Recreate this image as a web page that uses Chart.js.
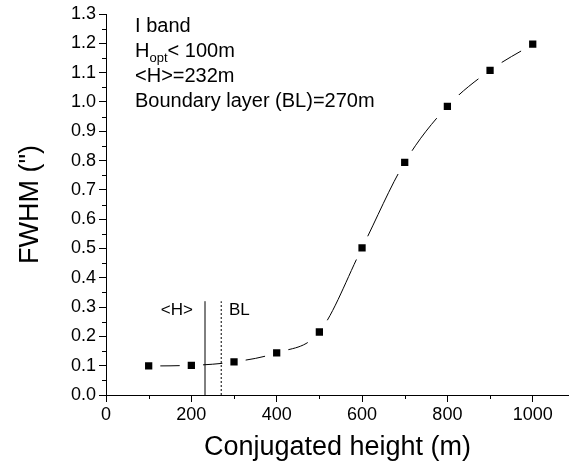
<!DOCTYPE html>
<html>
<head>
<meta charset="utf-8">
<script src="https://cdn.jsdelivr.net/npm/chart.js@4.4.1/dist/chart.umd.min.js"></script>
<style>
  html, body { margin: 0; padding: 0; background: #fff; }
  #wrap { width: 569px; height: 472px; }
</style>
</head>
<body>
<div id="wrap"><canvas id="chart"></canvas></div>
<script>
// FWHM vs conjugated height, I band
const heights = [100, 200, 300, 400, 500, 600, 700, 800, 900, 1000];
const fwhm = [0.099, 0.101, 0.113, 0.144, 0.215, 0.502, 0.794, 0.985, 1.108, 1.197];

const meanH = 232;      // <H>
const boundaryH = 270;  // BL
const markerTop = 0.32;

const xMinor = [100, 300, 500, 700, 900];
const yMinor = [0.05, 0.15, 0.25, 0.35, 0.45, 0.55, 0.65, 0.75, 0.85, 0.95, 1.05, 1.15, 1.25];

const FONT = '"Liberation Sans", Arial, sans-serif';

const extras = {
  id: 'extras',
  afterDraw(chart) {
    const ctx = chart.ctx;
    const xs = chart.scales.x, ys = chart.scales.y;
    const area = chart.chartArea;

    // minor ticks
    ctx.save();
    ctx.strokeStyle = '#000';
    ctx.lineWidth = 1;
    ctx.beginPath();
    xMinor.forEach(v => {
      const px = Math.round(xs.getPixelForValue(v)) + 0.5;
      ctx.moveTo(px, area.bottom);
      ctx.lineTo(px, area.bottom + 4);
    });
    yMinor.forEach(v => {
      const py = Math.round(ys.getPixelForValue(v)) + 0.5;
      ctx.moveTo(area.left, py);
      ctx.lineTo(area.left - 4, py);
    });
    ctx.stroke();

    // labels near the vertical lines
    ctx.fillStyle = '#000';
    ctx.textBaseline = 'middle';
    ctx.font = '17px ' + FONT;
    ctx.textAlign = 'center';
    ctx.fillText('<H>', xs.getPixelForValue(166), ys.getPixelForValue(0.29));
    ctx.textAlign = 'left';
    ctx.fillText('BL', xs.getPixelForValue(288), ys.getPixelForValue(0.29));

    // annotation block
    const left = xs.getPixelForValue(68);
    const top = area.top + 12;
    const step = 25;
    ctx.font = '20px ' + FONT;
    ctx.fillText('I band', left, top);
    ctx.fillText('H', left, top + step);
    let w = ctx.measureText('H').width;
    ctx.font = '13px ' + FONT;
    ctx.fillText('opt', left + w, top + step + 7);
    w += ctx.measureText('opt').width;
    ctx.font = '20px ' + FONT;
    ctx.fillText('< 100m', left + w, top + step);
    ctx.fillText('<H>=232m', left, top + 2 * step);
    ctx.fillText('Boundary layer (BL)=270m', left, top + 3 * step);
    ctx.restore();
  }
};

new Chart(document.getElementById('chart').getContext('2d'), {
  type: 'scatter',
  data: {
    datasets: [
      {
        data: heights.map((h, i) => ({ x: h, y: fwhm[i] })),
        showLine: true,
        borderColor: '#000',
        borderWidth: 1,
        cubicInterpolationMode: 'monotone',
        pointStyle: 'rect',
        pointRadius: 10.8,
        pointBackgroundColor: '#000',
        pointBorderColor: '#fff',
        pointBorderWidth: 8
      },
      {
        data: [{ x: meanH, y: 0 }, { x: meanH, y: markerTop }],
        showLine: true,
        borderColor: '#000',
        borderWidth: 1,
        pointRadius: 0
      },
      {
        data: [{ x: boundaryH, y: 0 }, { x: boundaryH, y: markerTop }],
        showLine: true,
        borderColor: '#000',
        borderWidth: 1,
        borderDash: [2, 2],
        pointRadius: 0
      }
    ]
  },
  options: {
    responsive: true,
    maintainAspectRatio: false,
    animation: false,
    events: [],
    layout: { autoPadding: false, padding: { top: 14, right: 0, left: 0, bottom: 0 } },
    plugins: { legend: { display: false }, tooltip: { enabled: false } },
    scales: {
      x: {
        type: 'linear',
        min: 0,
        max: 1085,
        afterFit: s => { s.height = 77; s.paddingRight = 0; s.paddingLeft = 0; },
        ticks: {
          stepSize: 200,
          includeBounds: false,
          color: '#000',
          font: { family: FONT, size: 18 },
          padding: 2,
          maxRotation: 0,
          callback: v => String(v)
        },
        grid: { drawOnChartArea: false, tickLength: 7, tickColor: '#000' },
        border: { color: '#000', width: 1 },
        title: {
          display: true,
          text: 'Conjugated height (m)',
          color: '#000',
          font: { family: FONT, size: 27 },
          padding: { top: 0, bottom: 8 }
        }
      },
      y: {
        min: 0,
        max: 1.3,
        afterFit: s => { s.width = 106; },
        ticks: {
          stepSize: 0.1,
          color: '#000',
          font: { family: FONT, size: 18 },
          padding: 3,
          callback: v => v.toFixed(1)
        },
        grid: { drawOnChartArea: false, tickLength: 7, tickColor: '#000' },
        border: { color: '#000', width: 1 },
        title: {
          display: true,
          text: 'FWHM (")',
          color: '#000',
          font: { family: FONT, size: 27 },
          padding: { top: 14, bottom: 0 }
        }
      }
    }
  },
  plugins: [extras]
});
</script>
</body>
</html>
